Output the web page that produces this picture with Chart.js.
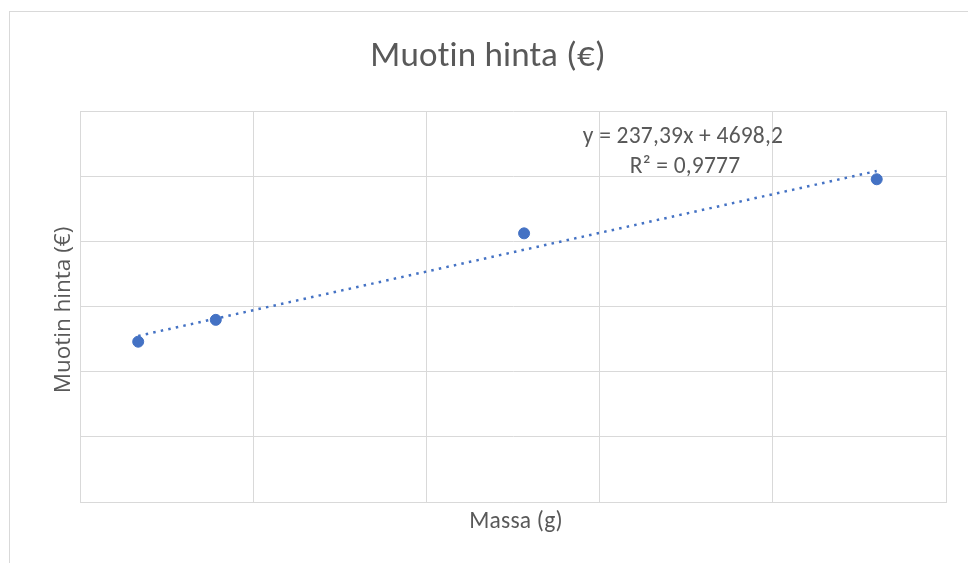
<!DOCTYPE html>
<html>
<head>
<meta charset="utf-8">
<script src="https://cdn.jsdelivr.net/npm/chart.js@4/dist/chart.umd.min.js"></script>
<style>
  html, body { margin: 0; padding: 0; background: #ffffff; }
  #wrap { width: 968px; height: 563px; position: relative; }
</style>
</head>
<body>
<div id="wrap"><canvas id="c" width="968" height="563"></canvas></div>
<script>
// ---- data ----
const massValues = [1.68, 3.92, 12.82, 23.0];          // Massa (g)
const priceValues = [4920, 5590, 8245, 9905];          // Muotin hinta (€)
const trendSlope = 237.39;                             // from the chart's equation label
const trendIntercept = 4698.2;
const equationLabels = ['y = 237,39x + 4698,2', 'R² = 0,9777'];
const chartTitle = 'Muotin hinta (€)';
const xAxisTitle = 'Massa (g)';
const yAxisTitle = 'Muotin hinta (€)';
const xAxisRange = [0, 25, 5];
const yAxisRange = [0, 12000, 2000];

const points = massValues.map((m, i) => ({ x: m, y: priceValues[i] }));
const xMin = Math.min(...massValues), xMax = Math.max(...massValues);
const trendPoints = [xMin, xMax].map(x => ({ x: x, y: trendSlope * x + trendIntercept }));

const textColor = '#595959';
const gridColor = '#d9d9d9';
const blue = '#4472C4';
const narrowFont = '"Carlito", "Liberation Sans Narrow", "Liberation Sans", sans-serif';

const decor = {
  id: 'decor',
  beforeDraw(chart) {
    const ctx = chart.ctx;
    ctx.save();
    ctx.fillStyle = '#ffffff';
    ctx.fillRect(0, 0, chart.width, chart.height);
    ctx.strokeStyle = gridColor;
    ctx.lineWidth = 1;
    ctx.strokeRect(9.5, 11.5, 1200, 800);
    ctx.restore();
  },
  afterDraw(chart) {
    const ctx = chart.ctx;
    ctx.save();
    ctx.fillStyle = textColor;
    ctx.textAlign = 'center';
    ctx.textBaseline = 'middle';
    try { ctx.letterSpacing = '0.2px'; } catch (e) {}
    // title
    ctx.font = '35px ' + narrowFont;
    ctx.fillText(chartTitle, 488, 57);
    // x axis title
    ctx.font = '23.5px ' + narrowFont;
    ctx.fillText(xAxisTitle, 516, 522);
    // equation label
    ctx.font = '23.5px ' + narrowFont;
    ctx.fillText(equationLabels[0], 683, 137);
    ctx.fillText(equationLabels[1], 685, 167);
    // y axis title
    try { ctx.letterSpacing = '0px'; } catch (e) {}
    ctx.translate(64, 310);
    ctx.rotate(-Math.PI / 2);
    ctx.font = '22.5px "Open Sans", "DejaVu Sans", sans-serif';
    ctx.fillText(yAxisTitle, 0, 0);
    ctx.restore();
  }
};

new Chart(document.getElementById('c'), {
  type: 'scatter',
  data: {
    datasets: [
      {
        label: 'Muotin hinta (€)',
        data: points,
        backgroundColor: blue,
        borderColor: blue,
        pointRadius: 5.5,
        pointHoverRadius: 5.5,
        order: 0
      },
      {
        label: 'trend',
        type: 'line',
        data: trendPoints,
        borderColor: blue,
        borderWidth: 2.5,
        borderDash: [2.5, 5.2],
        pointRadius: 0,
        fill: false,
        order: 1
      }
    ]
  },
  plugins: [decor],
  options: {
    responsive: false,
    animation: false,
    devicePixelRatio: 1,
    layout: { padding: { left: 80, top: 111, right: 22, bottom: 61 } },
    plugins: { legend: { display: false }, title: { display: false }, tooltip: { enabled: false } },
    scales: {
      x: {
        type: 'linear',
        min: xAxisRange[0], max: xAxisRange[1],
        ticks: { display: false, stepSize: xAxisRange[2] },
        grid: { color: gridColor, drawTicks: false, lineWidth: 1 },
        border: { color: gridColor, width: 1 }
      },
      y: {
        type: 'linear',
        min: yAxisRange[0], max: yAxisRange[1],
        ticks: { display: false, stepSize: yAxisRange[2] },
        grid: { color: gridColor, drawTicks: false, lineWidth: 1 },
        border: { color: gridColor, width: 1 }
      }
    }
  }
});
</script>
</body>
</html>
